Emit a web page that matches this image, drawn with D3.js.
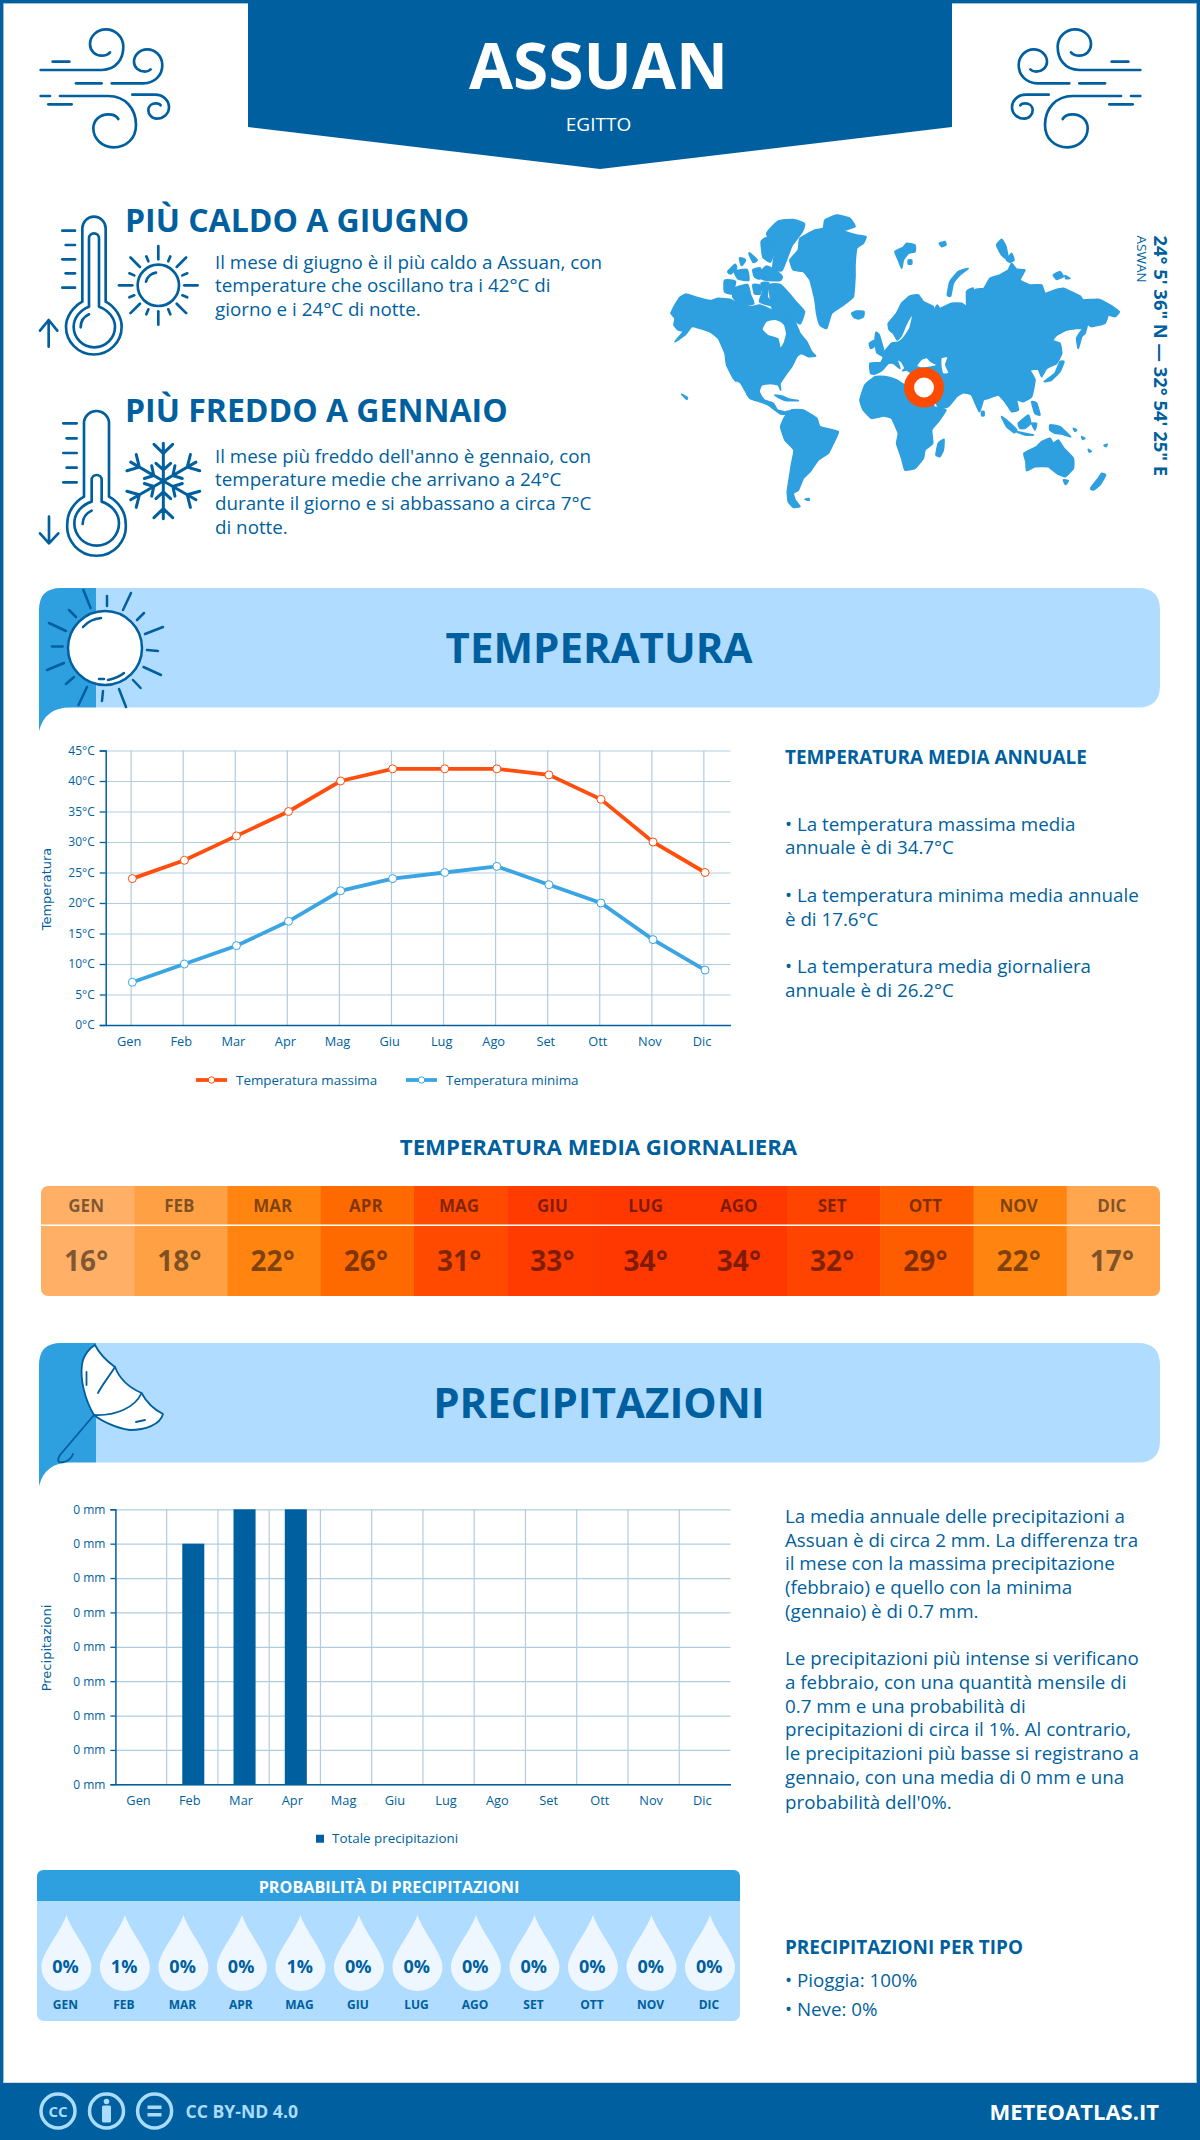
<!DOCTYPE html>
<html>
<head>
<meta charset="utf-8">
<script src="https://cdn.jsdelivr.net/npm/d3@7"></script>
<style>
  html, body { margin: 0; padding: 0; background: #fff; }
  svg { display: block; }
  text { font-family: "Open Sans", sans-serif; }
</style>
</head>
<body>
<svg id="chart" width="1200" height="2140" viewBox="0 0 1200 2140"></svg>
<script>
var months = ["Gen", "Feb", "Mar", "Apr", "Mag", "Giu", "Lug", "Ago", "Set", "Ott", "Nov", "Dic"];
var tempMax = [24, 27, 31, 35, 40, 42, 42, 42, 41, 37, 30, 25];
var tempMin = [7, 10, 13, 17, 22, 24, 25, 26, 23, 20, 14, 9];
var tempTicks = [0, 5, 10, 15, 20, 25, 30, 35, 40, 45];
var tempDaily = [16, 18, 22, 26, 31, 33, 34, 34, 32, 29, 22, 17];
var precip = [0, 0.7, 0.8, 0.8, 0, 0, 0, 0, 0, 0, 0, 0];
var precipTicks = [0, 0.1, 0.2, 0.3, 0.4, 0.5, 0.6, 0.7, 0.8];
var precipProb = [0, 1, 0, 0, 1, 0, 0, 0, 0, 0, 0, 0];

var hotText = ["Il mese di giugno è il più caldo a Assuan, con", "temperature che oscillano tra i 42°C di", "giorno e i 24°C di notte."];
var coldText = ["Il mese più freddo dell'anno è gennaio, con", "temperature medie che arrivano a 24°C", "durante il giorno e si abbassano a circa 7°C", "di notte."];
var tempNotes = [
  [831, "• La temperatura massima media"], [854, "annuale è di 34.7°C"],
  [902, "• La temperatura minima media annuale"], [926, "è di 17.6°C"],
  [973, "• La temperatura media giornaliera"], [997, "annuale è di 26.2°C"]
];
var precipNotes = [
  [1523.4, "La media annuale delle precipitazioni a"], [1546.5, "Assuan è di circa 2 mm. La differenza tra"],
  [1570, "il mese con la massima precipitazione"], [1594, "(febbraio) e quello con la minima"],
  [1618, "(gennaio) è di 0.7 mm."],
  [1665, "Le precipitazioni più intense si verificano"], [1689, "a febbraio, con una quantità mensile di"],
  [1713, "0.7 mm e una probabilità di"], [1736, "precipitazioni di circa il 1%. Al contrario,"],
  [1760, "le precipitazioni più basse si registrano a"], [1784.4, "gennaio, con una media di 0 mm e una"],
  [1808.5, "probabilità dell'0%."]
];

var heatDomain = [16, 17, 18, 22, 26, 29, 31, 32, 33, 34];
var heatColors = ["#ffb066", "#ffa64f", "#ffa044", "#ff8510", "#ff6a00", "#ff5c00", "#ff4a00", "#ff4400", "#ff3b00", "#ff3700"];

var blue = "#005f9e", midBlue = "#2e9fdf", lightBlue = "#b0dcff", orange = "#ff4e0d", gridColor = "#b0cde0";

// world map outlines in 3x units (west part)
var landWest = [
  [[35,305],[45,285],[60,262],[78,252],[110,262],[150,272],[175,265],[215,270],[240,288],[275,290],[300,285],[335,300],[345,305],[375,305],[400,325],[420,370],[440,395],[455,425],[467,438],[445,440],[425,430],[410,440],[395,470],[380,490],[360,520],[362,540],[355,525],[330,520],[305,525],[297,545],[312,570],[340,580],[352,600],[375,606],[395,602],[385,612],[362,612],[345,600],[325,585],[300,575],[270,565],[245,530],[220,505],[200,465],[195,430],[175,385],[150,365],[110,352],[95,350],[75,375],[45,395],[70,365],[55,360],[42,345],[45,325],[33,310]],
  [[390,150],[415,120],[420,85],[465,60],[490,55],[495,30],[530,15],[570,25],[585,50],[550,62],[590,75],[618,80],[610,100],[590,115],[585,165],[585,200],[580,260],[550,285],[515,310],[500,355],[480,345],[470,310],[465,270],[450,210],[430,185],[400,180]],
  [[575,310],[590,303],[612,305],[610,320],[595,327],[582,322]],
  [[345,555],[370,560],[390,568],[415,572],[380,572],[360,565]],
  [[65,553],[82,563],[80,568]],
  [[362,650],[375,620],[395,600],[430,600],[470,625],[480,650],[535,665],[520,700],[505,730],[475,750],[450,785],[430,805],[415,840],[400,850],[405,870],[420,890],[400,892],[385,875],[382,845],[388,805],[395,760],[402,720],[375,690]],
  [[435,868],[447,866],[447,871]]
];
var landArctic = [
  [[330,225],[360,225],[385,250],[410,280],[432,305],[420,340],[400,325],[375,305],[345,305],[335,285]],
  [[305,220],[325,220],[320,260],[335,285],[300,275],[310,245]],
  [[280,225],[302,228],[300,250],[285,250]],
  [[195,212],[225,215],[215,250],[195,245]],
  [[225,235],[262,225],[270,255],[280,280],[240,285],[220,260]],
  [[225,185],[260,180],[265,210],[235,205]],
  [[205,185],[225,165],[228,175],[212,190]],
  [[240,145],[255,150],[245,165]],
  [[268,130],[290,150],[280,155]],
  [[280,180],[300,175],[300,205],[285,200]],
  [[322,70],[355,35],[400,30],[432,42],[425,65],[395,105],[385,130],[365,180],[340,175],[345,130],[335,105]],
  [[305,95],[320,85],[340,125],[330,155],[310,140]],
  [[300,190],[320,170],[350,185],[365,200],[360,210],[325,210],[305,205]]
];
// same units, east part (drawn 600 units to the right)
var landEast = [
  [[32,490],[30,460],[62,458],[70,440],[50,428],[75,422],[95,400],[115,397],[130,385],[150,355],[160,310],[148,325],[135,350],[125,375],[112,390],[100,370],[88,360],[85,340],[110,310],[125,280],[150,258],[175,255],[190,275],[220,290],[215,305],[198,322],[222,300],[232,285],[240,295],[275,280],[305,280],[320,290],[320,245],[340,235],[336,296],[345,240],[372,235],[390,205],[420,195],[445,180],[455,160],[470,178],[495,180],[480,210],[510,225],[545,225],[555,250],[585,240],[610,235],[660,258],[670,270],[715,268],[750,285],[778,305],[765,320],[745,315],[735,340],[695,350],[680,340],[665,355],[650,355],[620,360],[590,375],[578,392],[600,400],[605,430],[590,460],[560,475],[545,500],[535,478],[510,480],[525,510],[515,560],[490,575],[470,570],[475,600],[455,605],[445,590],[435,575],[415,555],[385,565],[370,570],[358,605],[335,555],[310,548],[290,560],[265,590],[235,595],[228,570],[205,520],[165,495],[140,480],[128,482],[135,475],[125,455],[110,447],[120,475],[100,460],[85,460],[65,482],[45,492]],
  [[0,570],[15,525],[45,500],[75,500],[110,510],[135,525],[205,530],[222,590],[258,600],[235,635],[215,660],[218,700],[195,720],[190,745],[165,775],[135,780],[125,745],[110,700],[115,670],[95,625],[70,618],[35,625],[10,600]],
  [[228,735],[235,700],[252,688],[250,720],[240,740]],
  [[492,730],[530,710],[545,695],[570,685],[580,700],[595,690],[612,715],[640,745],[640,775],[615,800],[590,790],[565,770],[525,770],[500,782],[498,755]],
  [[692,835],[715,805],[725,790],[737,795],[720,825],[700,840]],
  [[610,810],[625,812],[617,824]],
  [[553,515],[585,490],[600,455],[612,455],[600,485],[575,510]],
  [[650,385],[662,365],[683,340],[675,370],[665,380],[655,415]],
  [[262,255],[270,215],[295,185],[325,175],[300,195],[280,220],[272,258]],
  [[410,105],[425,88],[438,110],[445,150],[425,135]],
  [[440,150],[455,130],[462,150],[450,157]],
  [[580,195],[600,185],[610,200],[590,208]],
  [[615,197],[630,205],[618,206]],
  [[238,100],[255,95],[258,105],[245,110]],
  [[105,125],[130,112],[140,100],[165,105],[165,125],[145,130],[130,150],[125,175],[115,150]],
  [[145,150],[155,150],[155,162],[145,162]],
  [[45,392],[48,367],[58,375],[68,410],[70,420],[50,425]],
  [[28,400],[42,392],[42,410],[32,415]],
  [[425,620],[445,635],[470,660],[462,668],[440,650]],
  [[470,665],[520,675],[495,675]],
  [[475,640],[505,615],[512,640],[495,655],[480,655]],
  [[515,640],[530,640],[525,660]],
  [[515,575],[530,580],[540,615],[525,610]],
  [[570,645],[600,650],[632,680],[605,672],[585,670],[570,660]],
  [[365,605],[372,605],[372,617],[365,617]],
  [[640,655],[650,660],[645,664]],
  [[665,680],[675,685],[668,688]],
  [[685,718],[694,724],[688,726]],
  [[732,706],[742,703],[738,710]]
];
var seaWest = [
  [[345,330],[320,335],[308,358],[325,375],[355,385],[362,412],[372,395],[378,370],[372,345],[360,335]],
  [[228,515],[240,520],[258,552],[250,552]]
];
var seaEast = [
  [[172,468],[185,450],[200,445],[210,455],[228,465],[205,470],[185,472]],
  [[245,445],[262,442],[255,465],[265,488],[250,490],[245,470]]
];

var svg = d3.select("#chart");

function drawText(parent, str, x, y, size, weight, color, anchor) {
  return parent.append("text").text(str)
    .attr("x", x).attr("y", y)
    .attr("font-size", size).attr("font-weight", weight)
    .attr("fill", color).attr("text-anchor", anchor || "start");
}

function iconGroup(transform, width) {
  return svg.append("g").attr("transform", transform)
    .attr("fill", "none").attr("stroke", blue).attr("stroke-width", width)
    .attr("stroke-linecap", "round").attr("stroke-linejoin", "round");
}

// page frame and header
svg.append("rect").attr("width", 1200).attr("height", 2140).attr("fill", "#fff");
svg.append("rect").attr("x", 1.7).attr("y", 1.7).attr("width", 1196.6).attr("height", 2136)
  .attr("fill", "none").attr("stroke", blue).attr("stroke-width", 3.4);
svg.append("path").attr("fill", blue).attr("d", "M248,0 H952 V127 L600,169 L248,127 Z");
drawText(svg, "ASSUAN", 598.5, 89, 64, 700, "#fff", "middle");
drawText(svg, "EGITTO", 598.5, 130.5, 19, 400, "#fff", "middle");

function drawWind(g) {
  ["M68,125 H118", "M138,190 H215", "M32,228 H60", "M55,253 H125",
   "M32,150 H215 C260,150 280,115 280,80 C280,50 255,28 228,28 C200,28 180,50 180,72 C180,92 195,107 215,107 C228,107 235,103 240,97",
   "M245,190 H340 C375,190 397,165 397,135 C397,108 375,88 352,88 C330,88 312,105 312,125 C312,143 328,155 345,155 C352,155 358,152 362,148",
   "M90,228 H235 C285,228 318,265 318,315 C318,355 290,382 250,382 C215,382 190,355 190,325 C190,300 210,283 235,283 C250,283 260,288 265,297",
   "M307,224 H375 C400,224 417,242 417,262 C417,282 400,296 380,296 C365,296 355,283 355,270 C355,258 365,250 378,250 C385,250 390,252 392,256"
  ].forEach(function(d) { g.append("path").attr("d", d); });
}
drawWind(iconGroup("translate(30,20) scale(0.3333)", 8));
drawWind(iconGroup("translate(1151,20) scale(-0.3333,0.3333)", 8));

// thermometers, small sun and snowflake share one 3x group
var icons = iconGroup("translate(30,205) scale(0.3333)", 8);
["M157,290 V70 A35,35 0 0 1 227,70 V290 C255,305 275,335 275,365 A83,83 0 1 1 108,365 C108,335 130,305 157,290",
 "M177,305 V100 A15,15 0 0 1 207,100 V305 C235,315 255,340 255,365 A62,62 0 1 1 131,365 C131,340 150,315 177,305",
 "M152,367 C152,350 162,335 177,328",
 "M97,77 H135", "M107,120 H135", "M97,163 H135", "M107,205 H135", "M97,248 H135",
 "M56,425 V345 M30,377 L56,345 L82,377",
 "M162,875 V650 A38,38 0 0 1 237,650 V875 C265,890 287,920 287,955 A88,88 0 1 1 112,955 C112,920 135,890 162,875",
 "M185,890 V825 A15,15 0 0 1 215,825 V890 C245,900 267,925 267,955 A67,67 0 1 1 133,955 C133,925 155,900 185,890",
 "M158,957 C158,940 168,925 185,917",
 "M100,655 H140", "M110,700 H140", "M100,744 H140", "M110,788 H140", "M100,832 H140",
 "M57,935 V1015 M30,985 L57,1015 L85,985"
].forEach(function(d) { icons.append("path").attr("d", d); });

var smallSun = icons.append("g").attr("transform", "translate(385,241)");
smallSun.append("circle").attr("r", 62);
smallSun.append("path").attr("d", "M-37,-11 C-33,-26 -20,-36 -7,-38");
d3.range(16).forEach(function(i) {
  var long = i % 2 == 0;
  smallSun.append("line").attr("y1", -78).attr("y2", long ? -118 : -94)
    .attr("transform", "rotate(" + (i * 22.5) + ")");
});

var flake = icons.append("g").attr("transform", "translate(400,828)").attr("stroke-width", 9);
d3.range(6).forEach(function(i) {
  flake.append("path").attr("transform", "rotate(" + (i * 60) + ")")
    .attr("d", "M0,0 V-113 M-28,-110 L0,-83 L28,-110 M-22,-53 L0,-33 L22,-53");
});

drawText(svg, "PIÙ CALDO A GIUGNO", 125, 231.5, 32, 700, blue);
drawText(svg, "PIÙ FREDDO A GENNAIO", 125, 421.5, 32, 700, blue);
hotText.forEach(function(t, i) { drawText(svg, t, 215, 268.5 + i * 23.6, 18.8, 400, blue); });
coldText.forEach(function(t, i) { drawText(svg, t, 215, 462.5 + i * 23.7, 18.8, 400, blue); });

// world map
var mapLine = d3.line().curve(d3.curveCardinalClosed.tension(0.6));
var map = svg.append("g").attr("transform", "translate(660,210) scale(0.3333)");
function drawShapes(shapes, dx, color, edge) {
  map.append("g").attr("transform", "translate(" + dx + ",0)").selectAll("path").data(shapes).join("path")
    .attr("d", mapLine).attr("fill", color)
    .attr("stroke", color).attr("stroke-width", edge).attr("stroke-linejoin", "round");
}
drawShapes(landArctic, 0, midBlue, 8);
drawShapes(landWest, 0, midBlue, 5);
drawShapes(landEast, 600, midBlue, 5);
drawShapes(seaWest, 0, "#fff", 0);
drawShapes(seaEast, 600, "#fff", 0);
svg.append("circle").attr("cx", 924).attr("cy", 387.5).attr("r", 15)
  .attr("fill", "#fff").attr("stroke", "#ff4b00").attr("stroke-width", 10);

drawText(svg, "24° 5' 36\" N — 32° 54' 25\" E", 0, 0, 18.4, 700, blue)
  .attr("transform", "translate(1154,235.5) rotate(90)");
drawText(svg, "ASWAN", 0, 0, 13.5, 400, blue)
  .attr("transform", "translate(1137,235.5) rotate(90)");

// section banners
function drawBanner(top, title, baseline) {
  var bottom = top + 119.5;
  svg.append("path").attr("fill", lightBlue)
    .attr("d", "M96," + top + " H1138 Q1160," + top + " 1160," + (top + 22) + " V" + (bottom - 22) + " Q1160," + bottom + " 1138," + bottom + " H96 Z");
  svg.append("path").attr("fill", midBlue)
    .attr("d", "M39," + (bottom + 23.5) + " V" + (top + 22) + " Q39," + top + " 61," + top + " H96 V" + bottom + " H70 Q45," + bottom + " 39," + (bottom + 23.5) + " Z");
  drawText(svg, title, 599, baseline, 42, 700, blue, "middle");
}
drawBanner(588, "TEMPERATURA", 662.5);
drawBanner(1343, "PRECIPITAZIONI", 1418);

// big sun on the temperature banner
var bigSun = iconGroup("translate(0,0)", 2.5);
bigSun.append("circle").attr("cx", 105).attr("cy", 648).attr("r", 37).attr("fill", "#fff");
["M83.4,590 L90.6,608", "M107,596 V606", "M131,593 L123,610", "M144,613 L137,620", "M163,627 L145,634", "M147,650 L158,651",
 "M143.5,667 L161,675", "M133,680 L140.6,688", "M119,689 L126,707", "M103,691 L102,701", "M87,687 L78.5,705", "M74,677 L66,684",
 "M64,663 L47,670", "M62.5,646.5 H52", "M66,631 L49,623", "M76,617 L69,610",
 "M83,627 Q90,619 101,618", "M108,680 Q118,678 124,673", "M99,679 H104"
].forEach(function(d) { bigSun.append("path").attr("d", d); });

// umbrella on the precipitation banner
var umbrella = iconGroup("translate(0,0)", 1.8);
umbrella.append("path").attr("fill", "#fff")
  .attr("d", "M95,1345 C100,1355 108,1362 115,1367 C120,1380 130,1388 141.5,1393 C148,1405 155,1410 163,1414 C160,1425 145,1430 130,1430 C115,1428 100,1420 94,1415 C85,1400 80,1380 82,1365 C83,1355 90,1348 95,1345 Z");
["M94,1415 L60,1455 Q55,1464 64,1462 Q71,1460 73,1454", "M115,1367 C108,1378 102,1385 98,1393", "M141.5,1393 C135,1408 115,1416 94,1415",
 "M86.5,1372 V1385", "M136,1422 L145,1420"].forEach(function(d) { umbrella.append("path").attr("d", d); });

// shared chart parts
function styleAxis(g, size) {
  g.selectAll("text").attr("font-family", '"Open Sans", sans-serif').attr("font-size", size).attr("fill", blue);
}

function drawGrid(box, y, ticks, gridV) {
  var gridH = svg.append("g").attr("transform", "translate(" + box.left + ",0)")
    .call(d3.axisLeft(y).tickValues(ticks).tickSize(-(box.right - box.left)).tickFormat(""));
  gridH.select(".domain").remove();
  gridH.selectAll("line").attr("stroke", gridColor).attr("stroke-width", 1.2);
  svg.append("g").selectAll("line").data(gridV).join("line")
    .attr("x1", function(d) { return d; }).attr("x2", function(d) { return d; })
    .attr("y1", box.top).attr("y2", box.bottom)
    .attr("stroke", gridColor).attr("stroke-width", 1.2);
}

function drawAxes(box, x, y, ticks, fmt, tickLen, labelGap) {
  var left = svg.append("g").attr("transform", "translate(" + box.left + ",0)")
    .call(d3.axisLeft(y).tickValues(ticks).tickSize(tickLen).tickPadding(labelGap).tickFormat(fmt));
  left.select(".domain").attr("stroke", blue).attr("stroke-width", 1.5);
  left.selectAll("line").attr("stroke", blue).attr("stroke-width", 1.3);
  styleAxis(left, 12);
  var bottom = svg.append("g").attr("transform", "translate(0," + box.bottom + ")")
    .call(d3.axisBottom(x).tickSize(0));
  bottom.select(".domain").attr("stroke", blue).attr("stroke-width", 1.5);
  styleAxis(bottom, 12.8);
  bottom.selectAll("text").attr("dy", 0).attr("y", 20.5).attr("dx", -2.5);
}

// temperature chart
var tempBox = { left: 105.7, right: 730.5, top: 750.5, bottom: 1025 };
var tempX = d3.scaleBand().domain(months).range([tempBox.left, tempBox.right]);
var tempY = d3.scaleLinear().domain([0, 45]).range([tempBox.bottom, tempBox.top]);

drawGrid(tempBox, tempY, tempTicks, months.map(function(m) { return tempX(m) + tempX.bandwidth() / 2 - 0.6; }));
drawAxes(tempBox, tempX, tempY, tempTicks, function(d) { return d + "°C"; }, 6, 5);

drawText(svg, "Temperatura", 0, 0, 13, 400, blue, "middle")
  .attr("style", 'font-family:"DejaVu Sans"')
  .attr("transform", "translate(50.5,889) rotate(-90)");

var monthCentre = function(i) { return tempX(months[i]) + tempX.bandwidth() / 2 + 0.6; };
var tempLine = d3.line().x(function(d, i) { return monthCentre(i); }).y(function(d) { return tempY(d); });

function drawTempSeries(values, color) {
  svg.append("path").datum(values).attr("d", tempLine).attr("fill", "none")
    .attr("stroke", color).attr("stroke-width", 3.8);
  svg.append("g").selectAll("circle").data(values).join("circle")
    .attr("cx", function(d, i) { return monthCentre(i); }).attr("cy", function(d) { return tempY(d); })
    .attr("r", 4).attr("fill", "#fff").attr("stroke", color).attr("stroke-width", 1);
}
drawTempSeries(tempMax, orange);
drawTempSeries(tempMin, "#3ba4e2");

function drawLineLegend(x, label, color) {
  svg.append("line").attr("x1", x).attr("x2", x + 31).attr("y1", 1080).attr("y2", 1080)
    .attr("stroke", color).attr("stroke-width", 3.8);
  svg.append("circle").attr("cx", x + 15.5).attr("cy", 1080).attr("r", 3.2)
    .attr("fill", "#fff").attr("stroke", color);
  drawText(svg, label, x + 40, 1084.5, 13.4, 400, blue);
}
drawLineLegend(196, "Temperatura massima", orange);
drawLineLegend(406, "Temperatura minima", "#3ba4e2");

drawText(svg, "TEMPERATURA MEDIA ANNUALE", 785, 764, 18.9, 700, blue);
tempNotes.forEach(function(n) { drawText(svg, n[1], 785, n[0], 18.75, 400, blue); });

// daily temperature strip
drawText(svg, "TEMPERATURA MEDIA GIORNALIERA", 598.5, 1154.5, 22.2, 700, blue, "middle");
var heatX = d3.scaleBand().domain(months).range([41, 1160]);
var heatColor = d3.scaleLinear().domain(heatDomain).range(heatColors);
svg.append("clipPath").attr("id", "heat-clip").append("rect")
  .attr("x", 41).attr("y", 1186).attr("width", 1119).attr("height", 110).attr("rx", 7);
var heat = svg.append("g").attr("clip-path", "url(#heat-clip)");
heat.selectAll("rect").data(months).join("rect")
  .attr("x", function(m) { return heatX(m); }).attr("y", 1186)
  .attr("width", heatX.bandwidth() + 0.5).attr("height", 110)
  .attr("fill", function(m, i) { return heatColor(tempDaily[i]); });
heat.append("rect").attr("x", 41).attr("y", 1224.5).attr("width", 1119).attr("height", 1.5).attr("fill", "#fff");
months.forEach(function(m, i) {
  var cx = heatX(m) + heatX.bandwidth() / 2 - 1.5;
  drawText(svg, m.toUpperCase(), cx, 1212, 17, 700, "rgba(0,0,0,0.5)", "middle");
  drawText(svg, tempDaily[i] + "°", cx, 1271, 28, 700, "rgba(0,0,0,0.5)", "middle");
});

// precipitation chart
var rainBox = { left: 115.4, right: 730.5, top: 1509.3, bottom: 1784.3 };
var rainX = d3.scaleBand().domain(months).range([rainBox.left, rainBox.right]).paddingInner(0.57).paddingOuter(0.285);
var rainY = d3.scaleLinear().domain([0, 0.8]).range([rainBox.bottom, rainBox.top]);
drawGrid(rainBox, rainY, precipTicks, d3.range(1, 12).map(function(i) { return rainBox.left + i * rainX.step(); }));
svg.append("g").selectAll("rect").data(precip).join("rect")
  .attr("x", function(d, i) { return rainX(months[i]) + 1; }).attr("y", function(d) { return rainY(d); })
  .attr("width", rainX.bandwidth()).attr("height", function(d) { return rainY(0) - rainY(d); })
  .attr("fill", blue);
drawAxes(rainBox, rainX, rainY, precipTicks, function(d) { return Math.floor(d) + " mm"; }, 5, 5);
drawText(svg, "Precipitazioni", 0, 0, 13, 400, blue, "middle")
  .attr("style", 'font-family:"DejaVu Sans"')
  .attr("transform", "translate(50.5,1648) rotate(-90)");
svg.append("rect").attr("x", 316).attr("y", 1834.7).attr("width", 8).attr("height", 8).attr("fill", blue);
drawText(svg, "Totale precipitazioni", 332, 1843, 13.4, 400, blue);

precipNotes.forEach(function(n) { drawText(svg, n[1], 785, n[0], 18.75, 400, blue); });
drawText(svg, "PRECIPITAZIONI PER TIPO", 785, 1954, 18.9, 700, blue);
drawText(svg, "• Pioggia: 100%", 785, 1987, 18.75, 400, blue);
drawText(svg, "• Neve: 0%", 785, 2016, 18.75, 400, blue);

// rain probability panel
svg.append("rect").attr("x", 37).attr("y", 1870).attr("width", 703).attr("height", 151).attr("rx", 7).attr("fill", lightBlue);
svg.append("path").attr("fill", midBlue).attr("d", "M37,1901 V1877 Q37,1870 44,1870 H733 Q740,1870 740,1877 V1901 Z");
drawText(svg, "PROBABILITÀ DI PRECIPITAZIONI", 389, 1892.5, 16.2, 700, "#fff", "middle");
var dropX = d3.scalePoint().domain(months).range([66.4, 710]);
var drop = svg.append("g");
months.forEach(function(m, i) {
  var cx = dropX(m);
  drop.append("path").attr("transform", "translate(" + cx + ",1915)").attr("fill", "#eef7ff")
    .attr("d", "M0,0 C6,18 25,38 25,52 A25,24 0 0 1 -25,52 C-25,38 -6,18 0,0 Z");
  drawText(drop, precipProb[i] + "%", cx - 0.8, 1972.5, 18, 700, blue, "middle");
  drawText(drop, m.toUpperCase(), cx - 1, 2009, 12, 700, blue, "middle");
});

// footer
svg.append("rect").attr("x", 0).attr("y", 2083).attr("width", 1200).attr("height", 57).attr("fill", blue);
svg.append("rect").attr("x", 3.4).attr("y", 2082).attr("width", 1193).attr("height", 1).attr("fill", "#d8d8d8");
var ccBlue = "#a9dcff";
[58, 106.5, 154.6].forEach(function(cx) {
  svg.append("circle").attr("cx", cx).attr("cy", 2111).attr("r", 17)
    .attr("fill", "none").attr("stroke", ccBlue).attr("stroke-width", 3.5);
});
drawText(svg, "CC", 58, 2116.5, 15, 700, ccBlue, "middle");
svg.append("circle").attr("cx", 106.5).attr("cy", 2101.5).attr("r", 2.8).attr("fill", ccBlue);
svg.append("rect").attr("x", 102).attr("y", 2105.5).attr("width", 9).attr("height", 17).attr("rx", 1.5).attr("fill", ccBlue);
svg.append("rect").attr("x", 147.5).attr("y", 2105.5).attr("width", 14).attr("height", 3.5).attr("fill", ccBlue);
svg.append("rect").attr("x", 147.5).attr("y", 2113).attr("width", 14).attr("height", 3.5).attr("fill", ccBlue);
drawText(svg, "CC BY-ND 4.0", 185.5, 2117.5, 17.6, 700, ccBlue);
drawText(svg, "METEOATLAS.IT", 1159, 2120, 22, 700, "#fff", "end");
</script>
</body>
</html>
